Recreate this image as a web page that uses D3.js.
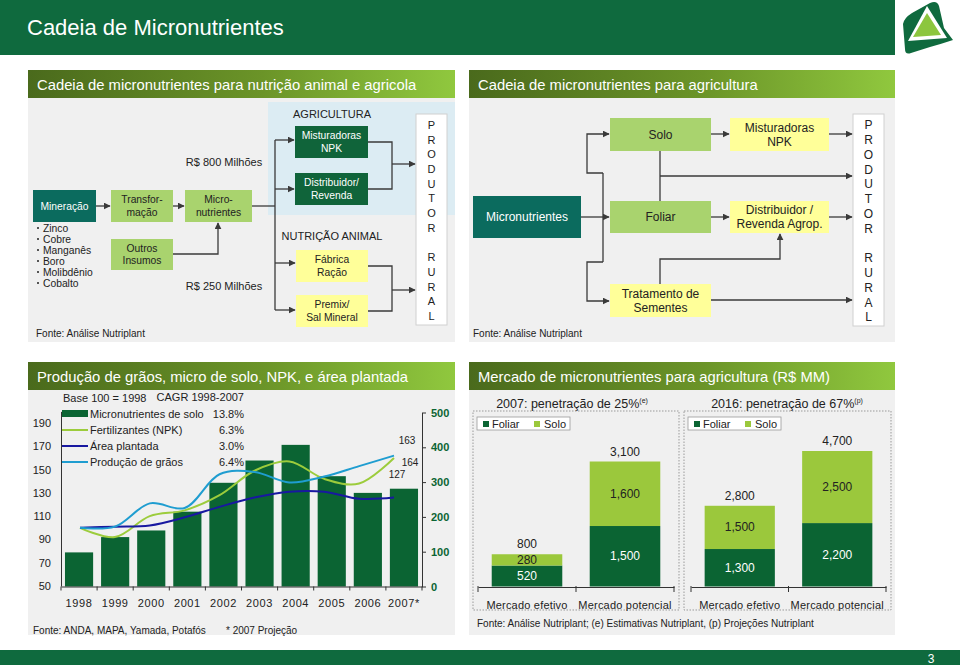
<!DOCTYPE html>
<html><head><meta charset="utf-8">
<script src="https://cdn.jsdelivr.net/npm/d3@7"></script>
<style>
body{margin:0;background:#fff}
svg{display:block;font-family:"Liberation Sans",Arial,sans-serif}
</style></head>
<body><svg id="c" width="960" height="665"></svg>
<script>
// ---------------- DATA ----------------
const years = ["1998","1999","2000","2001","2002","2003","2004","2005","2006","2007*"];
const microSolo = [98,142,161,215,298,362,407,317,269,281];   // right axis
const npk       = [100,92,110,115,128,149,157,142,138,160];   // left axis
const areaPlant = [100,101,102,109,118,126,131,131,125,126];
const graos     = [100,101,121,117,146,148,139,144,153,162];
const leftTicks  = [50,70,90,110,130,150,170,190];
const rightTicks = [0,100,200,300,400,500];
const legendNames = ["Micronutrientes de solo","Fertilizantes (NPK)","Área plantada","Produção de grãos"];
const cagr = ["13.8%","6.3%","3.0%","6.4%"];
const endLabels = ["163","164","127"];

const mercadoCats = ["Mercado efetivo","Mercado potencial"];
const foliar2007 = [520,1500], solo2007 = [280,1600], total2007 = [800,3100];
const foliar2016 = [1300,2200], solo2016 = [1500,2500], total2016 = [2800,4700];
const stackKeys = ["Foliar","Solo"];

const produtor = ["P","R","O","D","U","T","O","R","","R","U","R","A","L"];
const minerais = ["Zinco","Cobre","Manganês","Boro","Molibdênio","Cobalto"];

// ---------------- STYLE ----------------
const C = {
  band:"#0f6a3e", teal:"#0b6b5e", dkgreen:"#10643a", ltbox:"#a9d36e", yellow:"#ffff99",
  blue:"#dcecf3", panel:"#f0f0f0", bar:"#0b6433", solo:"#9bc83c",
  npk:"#9ccc3c", area:"#1818a0", graos:"#1f9dd0", line:"#3a3a3a", txt:"#222"
};
const svg = d3.select("#c");
const defs = svg.append("defs");
const g1 = defs.append("linearGradient").attr("id","hdr").attr("x1","0").attr("x2","1");
g1.append("stop").attr("offset","0").attr("stop-color","#4a6a1c");
g1.append("stop").attr("offset","0.55").attr("stop-color","#6b9428");
g1.append("stop").attr("offset","1").attr("stop-color","#90c83e");
defs.append("marker").attr("id","ah").attr("viewBox","0 0 10 10").attr("refX",9).attr("refY",5)
  .attr("markerWidth",7).attr("markerHeight",7).attr("markerUnits","userSpaceOnUse").attr("orient","auto")
  .append("path").attr("d","M0,0L10,5L0,10Z").attr("fill",C.line);

// ---------------- FRAME ----------------
svg.append("rect").attr("x",0).attr("y",0).attr("width",895).attr("height",55).attr("fill",C.band);
svg.append("text").attr("x",27).attr("y",35).attr("font-size",22).attr("fill","#fff").text("Cadeia de Micronutrientes");
// logo
const logo = svg.append("g");
logo.append("path").attr("d","M903,24 Q904,18 912,13 L930,3 Q937,0 939,6 L944,28 L953,40 Q941,44 930,47 L911,53 Q905,55 905,49 Z").attr("fill","#0f6a3e");
logo.append("path").attr("d","M927,6 L947,38 L908,41 Z").attr("fill","#fff");
logo.append("path").attr("d","M927,13 L941,35 L913,37 Z").attr("fill","#8cc63e");
svg.append("rect").attr("x",0).attr("y",650).attr("width",960).attr("height",15).attr("fill",C.band);
svg.append("text").attr("x",931).attr("y",663).attr("font-size",12).attr("fill","#fff").attr("text-anchor","middle").text("3");

function header(x,y,w,t){
  svg.append("rect").attr("x",x).attr("y",y).attr("width",w).attr("height",28).attr("fill","url(#hdr)");
  svg.append("text").attr("x",x+9).attr("y",y+19.5).attr("font-size",14.8).attr("fill","#fff").text(t);
}
function panel(x,y,w,h){svg.append("rect").attr("x",x).attr("y",y).attr("width",w).attr("height",h).attr("fill",C.panel);}
panel(28,98,427,244); panel(469,98,426,244);
panel(28,390,427,245); panel(469,390,426,245);
header(28,70,427,"Cadeia de micronutrientes para nutrição animal e agricola");
header(469,70,426,"Cadeia de micronutrientes para agricultura");
header(28,362,427,"Produção de grãos, micro de solo, NPK, e área plantada");
header(469,362,426,"Mercado de micronutrientes para agricultura (R$ MM)");

// ---------------- FLOWCHART helpers ----------------
function box(x0,y0,x1,y1,fill,lines,col,fs,stroke){
  svg.append("rect").attr("x",x0).attr("y",y0).attr("width",x1-x0).attr("height",y1-y0).attr("fill",fill)
    .attr("stroke",stroke||"none").attr("stroke-width",0.8);
  const t = svg.append("text").attr("font-size",fs).attr("fill",col).attr("text-anchor","middle");
  const lh = fs*1.2, cy=(y0+y1)/2 - (lines.length-1)*lh/2 + fs*0.35;
  lines.forEach((l,i)=>t.append("tspan").attr("x",(x0+x1)/2).attr("y",cy+i*lh).text(l));
}
const lg = d3.line();
function path(pts,arrow){
  svg.append("path").attr("d",lg(pts)).attr("fill","none").attr("stroke",C.line).attr("stroke-width",1.3)
    .attr("marker-end",arrow?"url(#ah)":null);
}
function produtorBox(x0,x1,y0,y1,fs){
  svg.append("rect").attr("x",x0).attr("y",y0).attr("width",x1-x0).attr("height",y1-y0).attr("fill","#fff").attr("stroke","#d0d0d0");
  const py = d3.scalePoint().domain(d3.range(produtor.length)).range([y0+11,y1-9]);
  svg.append("g").selectAll("text").data(produtor).join("text").attr("x",(x0+x1)/2).attr("y",(d,i)=>py(i)+fs*0.36)
    .attr("text-anchor","middle").attr("font-size",fs).attr("fill",C.txt).text(d=>d);
}

// ---------------- LEFT FLOWCHART ----------------
svg.append("rect").attr("x",268).attr("y",102).attr("width",187).attr("height",113).attr("fill",C.blue);
svg.append("text").attr("x",332).attr("y",118).attr("font-size",11).attr("text-anchor","middle").attr("fill",C.txt).text("AGRICULTURA");
svg.append("text").attr("x",332).attr("y",240).attr("font-size",11).attr("text-anchor","middle").attr("fill",C.txt).text("NUTRIÇÃO ANIMAL");
svg.append("text").attr("x",224).attr("y",166).attr("font-size",11).attr("text-anchor","middle").attr("fill",C.txt).text("R$ 800 Milhões");
svg.append("text").attr("x",224).attr("y",290).attr("font-size",11).attr("text-anchor","middle").attr("fill",C.txt).text("R$ 250 Milhões");
box(33,190,96,222,C.teal,["Mineração"],"#fff",10.3);
box(111,190,173,222,C.ltbox,["Transfor-","mação"],C.txt,10.3);
box(185,190,252,222,C.ltbox,["Micro-","nutrientes"],C.txt,10.3);
box(111,239,173,270,C.ltbox,["Outros","Insumos"],C.txt,10.3);
box(295,126,368,158,C.dkgreen,["Misturadoras","NPK"],"#fff",10.3);
box(295,173,368,205,C.dkgreen,["Distribuidor/","Revenda"],"#fff",10.3);
box(296,250,368,282,C.yellow,["Fábrica","Ração"],C.txt,10.3);
box(296,295,368,327,C.yellow,["Premix/","Sal Mineral"],C.txt,10.3);
produtorBox(416,447,114,325,11);
minerais.forEach((m,i)=>{
  svg.append("circle").attr("cx",38).attr("cy",228+i*11).attr("r",1).attr("fill",C.txt);
  svg.append("text").attr("x",43).attr("y",232+i*11).attr("font-size",10.3).attr("fill",C.txt).text(m);
});
path([[96,206],[110,206]],true);
path([[173,206],[184,206]],true);
path([[173,254],[218,254],[218,223]],true);
path([[252,206],[275,206]]);
path([[275,140],[275,310]]);
path([[275,140],[294,140]],true);
path([[275,189],[294,189]],true);
path([[275,263],[295,263]],true);
path([[275,310],[295,310]],true);
path([[368,142],[392,142],[392,189],[368,189]]);
path([[392,164],[415,164]],true);
path([[368,266],[392,266],[392,311],[368,311]]);
path([[392,290],[415,290]],true);
svg.append("text").attr("x",36).attr("y",337).attr("font-size",10).attr("fill",C.txt).text("Fonte: Análise Nutriplant");

// ---------------- RIGHT FLOWCHART ----------------
box(473,196,581,238,C.teal,["Micronutrientes"],"#fff",12);
box(610,118,711,151,C.ltbox,["Solo"],C.txt,12);
box(610,201,711,233,C.ltbox,["Foliar"],C.txt,12);
box(610,284,711,317,C.yellow,["Tratamento de","Sementes"],C.txt,12);
box(730,118,829,151,C.yellow,["Misturadoras","NPK"],C.txt,12);
box(730,201,829,233,C.yellow,["Distribuidor /","Revenda Agrop."],C.txt,12);
produtorBox(853,884,114,326,12);
path([[581,217],[609,217]],true);
path([[603,173],[603,262]]);
path([[603,173],[587,173],[587,134],[609,134]],true);
path([[603,262],[587,262],[587,301],[609,301]],true);
path([[711,134],[729,134]],true);
path([[829,134],[852,134]],true);
path([[711,217],[729,217]],true);
path([[829,217],[852,217]],true);
path([[660,151],[660,201]]);
path([[660,176],[852,176]],true);
path([[660,284],[660,259],[780,259],[780,234]],true);
path([[711,300],[852,300]],true);
svg.append("text").attr("x",473).attr("y",337).attr("font-size",10).attr("fill",C.txt).text("Fonte: Análise Nutriplant");

// ---------------- COMBO CHART ----------------
const x = d3.scaleBand().domain(years).range([61,422]).paddingInner(0.22).paddingOuter(0.11);
const yL = d3.scaleLinear().domain([50,200]).range([586,411.4]);
const yR = d3.scaleLinear().domain([0,500]).range([586.5,412.5]);
const xl = d3.scalePoint().domain(years).range([80,394]);

svg.append("g").selectAll("rect").data(microSolo).join("rect")
  .attr("x",(d,i)=>x(years[i])).attr("width",x.bandwidth())
  .attr("y",d=>yR(d)).attr("height",d=>yR(0)-yR(d)).attr("fill",C.bar);

const curve = d3.curveCatmullRom.alpha(0.5);
const lineGen = d3.line().x((d,i)=>xl(years[i])).y(d=>yL(d)).curve(curve);
[[npk,C.npk],[areaPlant,C.area],[graos,C.graos]].forEach(([s,c])=>{
  svg.append("path").attr("d",lineGen(s)).attr("fill","none").attr("stroke",c).attr("stroke-width",2);
});

// left axis
const axL = svg.append("g").attr("transform","translate(61,0)")
  .call(d3.axisLeft(yL).tickValues(leftTicks).tickSize(0).tickPadding(10));
axL.select(".domain").attr("stroke","#333");
axL.selectAll("text").attr("font-size",11).attr("fill",C.txt).attr("font-family","Liberation Sans, Arial");
// right axis
const axR = svg.append("g").attr("transform","translate(422,0)")
  .call(d3.axisRight(yR).tickValues(rightTicks).tickSize(4).tickSizeOuter(0).tickPadding(5));
axR.select(".domain").attr("stroke","#333");
axR.selectAll("line").attr("stroke","#333");
axR.selectAll("text").attr("font-size",11).attr("font-weight","bold").attr("fill",C.bar).attr("font-family","Liberation Sans, Arial");
// bottom axis
const axB = svg.append("g").attr("transform","translate(0,586.5)")
  .call(d3.axisBottom(x).tickSize(0).tickPadding(13).tickSizeOuter(0));
axB.select(".domain").attr("stroke","#333");
axB.selectAll("text").attr("font-size",11).attr("fill",C.txt).attr("font-family","Liberation Sans, Arial").attr("letter-spacing","0.6");
const half = (x.step()-x.bandwidth())/2;
axB.selectAll(".bnd").data(years.concat(["end"])).join("line")
  .attr("x1",(d,i)=> i<years.length ? x(d)-half : x(years[years.length-1])+x.bandwidth()+half)
  .attr("x2",(d,i)=> i<years.length ? x(d)-half : x(years[years.length-1])+x.bandwidth()+half)
  .attr("y1",0).attr("y2",4).attr("stroke","#333");

// legend
const lgG = svg.append("g").attr("font-size",11).attr("fill",C.txt);
lgG.append("text").attr("x",63).attr("y",402).text("Base 100 = 1998");
lgG.append("text").attr("x",244).attr("y",401).attr("text-anchor","end").text("CAGR 1998-2007");
const lcols = [C.bar,C.npk,C.area,C.graos];
legendNames.forEach((n,i)=>{
  const yy = 414+i*16;
  if(i===0) lgG.append("rect").attr("x",62).attr("y",yy-4).attr("width",26).attr("height",7).attr("fill",C.bar);
  else lgG.append("line").attr("x1",62).attr("x2",88).attr("y1",yy).attr("y2",yy).attr("stroke",lcols[i]).attr("stroke-width",2);
  lgG.append("text").attr("x",90).attr("y",yy+4).text(n);
  lgG.append("text").attr("x",244).attr("y",yy+4).attr("text-anchor","end").text(cagr[i]);
});
// end labels
const elx = [407,410,397], ely=[444,466,478];
endLabels.forEach((t,i)=>svg.append("text").attr("x",elx[i]).attr("y",ely[i]).attr("font-size",10).attr("text-anchor","middle").attr("fill",C.txt).text(t));
svg.append("text").attr("x",33).attr("y",634).attr("font-size",10).attr("fill",C.txt).text("Fonte: ANDA, MAPA, Yamada, Potafós");
svg.append("text").attr("x",226).attr("y",634).attr("font-size",10).attr("fill",C.txt).text("* 2007 Projeção");

// ---------------- MARKET CHARTS ----------------
function market(x0,x1,axisX0,axisX1,top,foliar,solo,total,title,sup,titleX){
  svg.append("rect").attr("x",x0).attr("y",411).attr("width",x1-x0).attr("height",199).attr("fill","none")
    .attr("stroke","#9a9a9a").attr("stroke-dasharray","1.5,1.5");
  const tt = svg.append("text").attr("x",titleX).attr("y",408).attr("font-size",12.5).attr("text-anchor","middle").attr("fill",C.txt);
  tt.append("tspan").text(title);
  tt.append("tspan").attr("font-size",7).attr("dy",-5).text(sup);
  svg.append("rect").attr("x",x0+4).attr("y",417).attr("width",93).attr("height",13).attr("fill","#fff").attr("stroke","#999").attr("stroke-width",0.8);
  svg.append("rect").attr("x",x0+10).attr("y",421).attr("width",6).attr("height",6).attr("fill",C.bar);
  svg.append("text").attr("x",x0+19).attr("y",427.5).attr("font-size",11).attr("fill",C.txt).text(stackKeys[0]);
  svg.append("rect").attr("x",x0+61).attr("y",421).attr("width",6).attr("height",6).attr("fill",C.solo);
  svg.append("text").attr("x",x0+71).attr("y",427.5).attr("font-size",11).attr("fill",C.txt).text(stackKeys[1]);

  const xb = d3.scaleBand().domain(mercadoCats).range([axisX0,axisX1]).paddingInner(0.28).paddingOuter(0.14);
  const y = d3.scaleLinear().domain([0,d3.max(total)]).range([586.5,top]);
  const rows = mercadoCats.map((c,i)=>({cat:c,Foliar:foliar[i],Solo:solo[i],total:total[i]}));
  const st = d3.stack().keys(stackKeys)(rows);
  const cols = [C.bar,C.solo], lcol=["#fff",C.txt];
  st.forEach((layer,k)=>{
    svg.append("g").selectAll("rect").data(layer).join("rect")
      .attr("x",d=>xb(d.data.cat)).attr("width",xb.bandwidth())
      .attr("y",d=>y(d[1])).attr("height",d=>y(d[0])-y(d[1])).attr("fill",cols[k]);
    svg.append("g").selectAll("text").data(layer).join("text")
      .attr("x",d=>xb(d.data.cat)+xb.bandwidth()/2).attr("y",d=>(y(d[0])+y(d[1]))/2+4)
      .attr("text-anchor","middle").attr("font-size",12).attr("fill",lcol[k])
      .text(d=>d3.format(",")(d.data[stackKeys[k]]));
  });
  svg.append("g").selectAll("text").data(rows).join("text")
    .attr("x",d=>xb(d.cat)+xb.bandwidth()/2).attr("y",d=>y(d.total)-6)
    .attr("text-anchor","middle").attr("font-size",12).attr("fill",C.txt).text(d=>d3.format(",")(d.total));
  const ax = svg.append("g").attr("transform","translate(0,587)")
    .call(d3.axisBottom(xb).tickSize(0).tickPadding(14).tickSizeOuter(0));
  ax.select(".domain").attr("stroke","#333").attr("stroke-width",1.2);
  ax.selectAll("text").attr("font-size",11).attr("fill",C.txt).attr("font-family","Liberation Sans, Arial").attr("letter-spacing","0.2");
  const bx = [axisX0,(axisX0+axisX1)/2,axisX1];
  ax.selectAll(".bt").data(bx).join("line").attr("x1",d=>d).attr("x2",d=>d).attr("y1",-1).attr("y2",5).attr("stroke","#333");
}
market(473,679,478,674,461.5,foliar2007,solo2007,total2007,"2007: penetração de 25%","(e)",572);
market(684,891,691,886,451,foliar2016,solo2016,total2016,"2016: penetração de 67%","(p)",787);
svg.append("text").attr("x",477).attr("y",627).attr("font-size",10).attr("fill",C.txt)
  .text("Fonte: Análise Nutriplant; (e) Estimativas Nutriplant, (p) Projeções Nutriplant");
</script></body></html>
